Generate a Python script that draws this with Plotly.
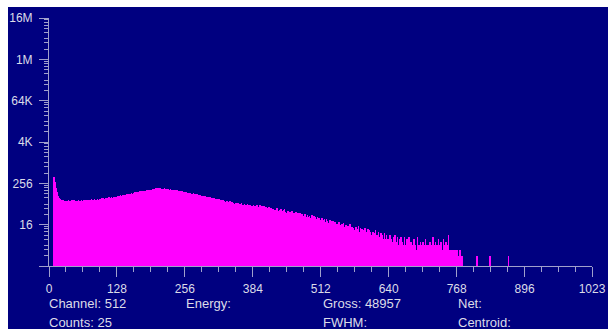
import plotly.graph_objects as go
import math

# ---------------- data ----------------
channels = list(range(1024))

counts = [
    # 0-31
    0, 0, 0, 0, 0, 0, 0, 0, 0, 385, 332, 276, 228, 188, 161, 139, 121, 108, 101, 94, 90, 87, 83, 86, 79, 81, 76, 82, 78, 74, 80, 77,
    # 32-63
    78, 71, 80, 74, 69, 82, 77, 73, 79, 75, 70, 84, 76, 72, 78, 81, 74, 68, 77, 80, 73, 79, 75, 71, 83, 76, 74, 78, 70, 81, 77, 75,
    # 64-95
    80, 76, 84, 78, 73, 81, 86, 79, 75, 83, 80, 77, 85, 82, 74, 81, 88, 79, 83, 76, 84, 80, 87, 82, 78, 85, 81, 89, 84, 79, 86, 83,
    # 96-127
    88, 84, 91, 86, 93, 89, 82, 94, 90, 87, 96, 92, 85, 98, 93, 89, 95, 101, 91, 97, 94, 88, 102, 96, 92, 99, 105, 95, 100, 97, 93, 104,
    # 128-159
    101, 108, 98, 106, 112, 103, 110, 115, 107, 113, 109, 118, 111, 105, 116, 121, 112, 119, 114, 124, 117, 110, 122, 127, 118, 125, 120, 130, 123, 116, 128, 133,
    # 160-191
    126, 134, 139, 129, 137, 143, 132, 140, 146, 136, 142, 149, 138, 145, 151, 141, 147, 154, 144, 150, 157, 146, 153, 148, 159, 151, 156, 162, 150, 158, 164, 155,
    # 192-223
    161, 168, 157, 172, 165, 176, 169, 163, 178, 171, 182, 167, 175, 184, 170, 179, 173, 186, 168, 177, 181, 172, 165, 179, 174, 169, 183, 171, 164, 176, 170, 166,
    # 224-255
    172, 161, 168, 158, 165, 170, 156, 163, 159, 167, 152, 160, 155, 163, 149, 157, 153, 160, 147, 155, 150, 145, 156, 148, 142, 151, 146, 153, 140, 147, 143, 138,
    # 256-287
    144, 136, 141, 132, 138, 129, 135, 127, 133, 124, 130, 136, 121, 128, 125, 119, 131, 122, 126, 117, 123, 114, 120, 125, 112, 118, 115, 121, 109, 116, 112, 107,
    # 288-319
    113, 105, 110, 102, 108, 99, 106, 111, 97, 103, 100, 95, 104, 98, 93, 101, 96, 90, 99, 94, 88, 97, 92, 86, 95, 89, 84, 92, 87, 82, 90, 85,
    # 320-351
    83, 88, 79, 85, 76, 82, 78, 74, 84, 77, 71, 80, 75, 69, 79, 73, 76, 68, 74, 71, 66, 77, 70, 64, 72, 68, 73, 63, 70, 66, 61, 69,
    # 352-383
    65, 58, 70, 62, 54, 67, 61, 64, 52, 63, 59, 69, 55, 61, 58, 50, 66, 57, 60, 49, 59, 55, 64, 48, 58, 54, 46, 61, 53, 56, 45, 55,
    # 384-415
    52, 61, 44, 57, 47, 55, 40, 49, 58, 45, 53, 38, 50, 46, 59, 42, 48, 55, 39, 51, 45, 56, 41, 47, 36, 52, 44, 49, 38, 46, 54, 41,
    # 416-447
    44, 35, 49, 38, 31, 45, 40, 47, 33, 42, 36, 29, 43, 39, 50, 32, 41, 37, 28, 44, 34, 46, 30, 39, 35, 27, 42, 33, 45, 29, 37, 32,
    # 448-479
    35, 27, 40, 29, 34, 24, 38, 30, 33, 26, 41, 28, 32, 23, 36, 30, 27, 37, 22, 31, 28, 35, 21, 30, 26, 34, 20, 29, 25, 33, 19, 28,
    # 480-511
    28, 21, 32, 24, 19, 27, 23, 31, 17, 26, 22, 29, 16, 25, 20, 30, 18, 24, 21, 28, 15, 23, 26, 19, 24, 14, 27, 20, 17, 25, 13, 22,
    # 512-543
    21, 15, 25, 18, 12, 22, 17, 24, 13, 19, 11, 23, 16, 20, 10, 18, 14, 22, 9, 17, 20, 13, 16, 21, 10, 18, 12, 19, 8, 16, 14, 17,
    # 544-575
    15, 10, 19, 12, 8, 16, 13, 9, 17, 7, 13, 18, 11, 6, 14, 10, 16, 5, 12, 15, 7, 13, 10, 17, 6, 12, 9, 14, 4, 11, 13, 8,
    # 576-607
    11, 6, 14, 9, 4, 12, 8, 15, 5, 10, 3, 13, 9, 6, 12, 7, 11, 2, 9, 13, 5, 10, 7, 1, 9, 12, 4, 8, 11, 3, 10, 6,
    # 608-639
    8, 4, 10, 6, 2, 9, 5, 11, 1, 7, 8, 3, 6, 10, 1, 7, 4, 9, 5, 2, 8, 1, 6, 4, 9, 1, 6, 3, 8, 5, 1, 6,
    # 640-671
    5, 2, 8, 3, 6, 1, 5, 4, 1, 7, 5, 2, 8, 4, 0, 5, 3, 7, 1, 4, 6, 1, 3, 7, 4, 1, 5, 3, 0, 4, 7, 2,
    # 672-703
    4, 1, 6, 3, 0, 4, 7, 1, 3, 0, 5, 2, 4, 1, 0, 3, 6, 1, 4, 0, 3, 1, 7, 3, 0, 4, 1, 3, 5, 0, 2, 4,
    # 704-735
    3, 5, 2, 4, 3, 6, 2, 3, 4, 3, 1, 4, 3, 2, 5, 3, 4, 2, 3, 7, 3, 2, 4, 3, 5, 1, 3, 4, 2, 3, 6, 3,
    # 736-767
    3, 4, 2, 5, 3, 3, 2, 6, 4, 3, 2, 3, 5, 3, 2, 4, 3, 8, 2, 3, 2, 3, 2, 2, 3, 2, 2, 3, 2, 2, 3, 2,
    # 768-799
    2, 3, 2, 2, 1, 2, 3, 2, 2, 1, 2, 2, 0, 1, 0, 0, 1, 0, 0, 1, 0, 0, 0, 1, 0, 0, 1, 0, 0, 0, 0, 1,
    # 800-831
    0, 1, 0, 0, 0, 0, 2, 0, 1, 0, 0, 0, 0, 1, 0, 0, 0, 0, 0, 1, 0, 0, 0, 0, 1, 0, 0, 0, 0, 0, 0, 2,
    # 832-863
    0, 0, 1, 0, 0, 0, 0, 0, 1, 0, 0, 0, 0, 0, 0, 1, 0, 0, 0, 0, 0, 0, 1, 0, 0, 0, 0, 0, 0, 0, 1, 0,
    # 864-895
    0, 0, 2, 0, 0, 0, 0, 1, 0, 0, 0, 0, 0, 0, 0, 0, 1, 0, 0, 0, 0, 0, 0, 0, 0, 0, 0, 1, 0, 0, 0, 0,
    # 896-927
    0, 0, 0, 1, 0, 0, 0, 0, 0, 0, 0, 0, 1, 0, 0, 0, 0, 0, 0, 0, 0, 0, 0, 0, 0, 1, 0, 0, 0, 0, 0, 0,
    # 928-959
    0, 0, 0, 0, 0, 0, 1, 0, 0, 0, 0, 0, 0, 0, 0, 0, 0, 0, 0, 0, 1, 0, 0, 0, 0, 0, 0, 0, 0, 0, 0, 0,
    # 960-991
    0, 0, 0, 0, 0, 0, 0, 0, 0, 0, 0, 0, 0, 0, 0, 1, 0, 0, 0, 0, 0, 0, 0, 0, 0, 0, 0, 0, 0, 0, 0, 0,
    # 992-1023
    0, 0, 0, 0, 0, 0, 0, 0, 0, 0, 0, 0, 0, 0, 0, 0, 0, 0, 0, 0, 0, 0, 0, 0, 0, 0, 0, 0, 0, 0, 0, 0,
]

x_tick_vals = [0, 128, 256, 384, 512, 640, 768, 896, 1023]
x_tick_text = ["0", "128", "256", "384", "512", "640", "768", "896", "1023"]
x_minor_vals = [32, 64, 96, 160, 192, 224, 288, 320, 352, 416, 448, 480, 544, 576, 608,
                672, 704, 736, 800, 832, 864, 928, 960, 992]

y_tick_vals = [1, 16, 256, 4096, 65536, 1048576, 16777216]
y_tick_text = ["", "16", "256", "4K", "64K", "1M", "16M"]
y_minor_mult = [2, 3, 4, 6, 8, 10, 12, 14]

info_labels = ["Channel: 512", "Energy:", "Gross: 48957", "Net:",
               "Counts: 25", "FWHM:", "Centroid:"]

# ---------------- style / layout ----------------
W, H = 609, 329
ML, MR, MT, MB = 49, 17, 18, 63
PW, PH = W - ML - MR, H - MT - MB

NAVY = "#000080"
MAGENTA = "#FF00FF"
TXT = "#DCDCE8"
AX = "#A0A0CC"
FONT = "Arial, Liberation Sans, sans-serif"

def px_x(px):
    return (px - ML) / PW

def px_y(py):
    return (H - MB - py) / PH

y_minor_vals = [16 ** k * m for k in range(6) for m in y_minor_mult]

fig = go.Figure()
fig.add_trace(go.Bar(
    x=channels, y=counts,
    marker=dict(color=MAGENTA, line=dict(width=0)),
    width=1.0,
    hoverinfo="skip",
))

fig.update_layout(
    width=W, height=H,
    margin=dict(l=ML, r=MR, t=MT, b=MB, pad=0, autoexpand=False),
    paper_bgcolor="white",
    plot_bgcolor=NAVY,
    bargap=0,
    showlegend=False,
    font=dict(family=FONT, size=12, color=TXT),
)

fig.update_xaxes(
    range=[0, 1023], autorange=False, automargin=False,
    showgrid=False, zeroline=False,
    showline=True, linecolor=AX, linewidth=1,
    tickmode="array", tickvals=x_tick_vals, ticktext=x_tick_text,
    ticks="outside", ticklen=10, tickwidth=1, tickcolor=AX,
    ticklabelstandoff=2,
    tickfont=dict(family=FONT, size=12, color=TXT),
    minor=dict(tickmode="array", tickvals=x_minor_vals, ticks="outside",
               ticklen=5, tickwidth=1, tickcolor=AX, showgrid=False),
)

fig.update_yaxes(
    type="log",
    range=[0, math.log10(16 ** 6)], autorange=False, automargin=False,
    showgrid=False, zeroline=False,
    showline=True, linecolor=AX, linewidth=1,
    tickmode="array", tickvals=y_tick_vals, ticktext=y_tick_text,
    ticks="outside", ticklen=9, tickwidth=1, tickcolor=AX,
    ticklabelstandoff=4,
    tickfont=dict(family=FONT, size=12, color=TXT),
    minor=dict(tickmode="array", tickvals=y_minor_vals, ticks="outside",
               ticklen=4, tickwidth=1, tickcolor=AX, showgrid=False),
)

# navy panel (with thin white strips at left, top and right like the reference)
fig.add_shape(type="rect", xref="paper", yref="paper",
              x0=px_x(8), x1=px_x(608), y0=px_y(H + 2), y1=px_y(7),
              fillcolor=NAVY, line=dict(width=0), layer="below")

info_pos = [(47, 303), (184, 303), (321, 303), (456, 303),
            (47, 322), (321, 322), (456, 322)]
for text, (px, py) in zip(info_labels, info_pos):
    fig.add_annotation(text=text, xref="paper", yref="paper",
                       x=px_x(px), y=px_y(py), xanchor="left", yanchor="middle",
                       showarrow=False, font=dict(family=FONT, size=13, color=TXT))

fig.write_html("out.html", config={"displayModeBar": False})
